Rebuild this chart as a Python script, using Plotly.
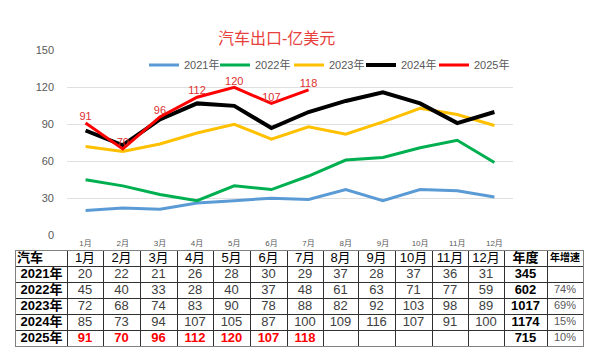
import plotly.graph_objects as go

months = ["1月", "2月", "3月", "4月", "5月", "6月", "7月", "8月", "9月", "10月", "11月", "12月"]
years = ["2021年", "2022年", "2023年", "2024年", "2025年"]
v2021 = [20, 22, 21, 26, 28, 30, 29, 37, 28, 37, 36, 31]
v2022 = [45, 40, 33, 28, 40, 37, 48, 61, 63, 71, 77, 59]
v2023 = [72, 68, 74, 83, 90, 78, 88, 82, 92, 103, 98, 89]
v2024 = [85, 73, 94, 107, 105, 87, 100, 109, 116, 107, 91, 100]
v2025 = [91, 70, 96, 112, 120, 107, 118]
annual = [345, 602, 1017, 1174, 715]
growth = ["", "74%", "69%", "15%", "10%"]
y_ticks = [0, 30, 60, 90, 120, 150]

W, H = 599, 361
FONT = "Liberation Sans, Arial, Noto Sans CJK SC, sans-serif"

series = [v2021, v2022, v2023, v2024, v2025]
colors = ["#5B9BD5", "#00B050", "#FFC000", "#000000", "#FF0000"]
widths = [3, 3, 3, 4, 3]
legend_px = [152, 223, 297, 369, 442]   # left edge of each legend entry (pixels)
legend_names = ["legend", "legend2", "legend3", "legend4", "legend5"]

def px_x(p):
    return p / W

def px_y(p):
    return 1 - p / H

fig = go.Figure()
for name, vals, c, w, lg in zip(years, series, colors, widths, legend_names):
    is25 = name == "2025年"
    fig.add_trace(go.Scatter(
        x=months[:len(vals)], y=vals, name=name,
        mode="lines+text" if is25 else "lines",
        line=dict(color=c, width=w),
        text=[str(v) for v in vals] if is25 else None,
        textposition="top center",
        textfont=dict(color="#E03030", size=11, family=FONT),
        cliponaxis=False, hoverinfo="skip", legend=lg,
        xaxis="x", yaxis="y",
    ))

# ---- table drawn on its own axes ----
col_w = [51, 36, 37, 37, 36, 37, 37, 36, 35, 37, 37, 36, 36, 43, 36]
bounds = [0]
for cw in col_w:
    bounds.append(bounds[-1] + cw)
centers = [(bounds[i] + bounds[i + 1]) / 2 for i in range(len(col_w))]

header = ["<b>汽车</b>"] + months + ["<b>年度</b>", "<b>年增速</b>"]
hdr_sizes = [13] * 14 + [10]
fig.add_trace(go.Scatter(
    x=[bounds[0] + 1], y=[0.5], text=[header[0]], mode="text",
    textposition="middle right", textfont=dict(size=13, color="#000000", family=FONT),
    showlegend=False, hoverinfo="skip", xaxis="x2", yaxis="y2", cliponaxis=False))
fig.add_trace(go.Scatter(
    x=centers[1:], y=[0.5] * (len(header) - 1), text=header[1:], mode="text",
    textposition="middle center",
    textfont=dict(size=hdr_sizes[1:], color="#000000", family=FONT),
    showlegend=False, hoverinfo="skip", xaxis="x2", yaxis="y2", cliponaxis=False))

for i, (y, vals) in enumerate(zip(years, series)):
    texts = ["<b>%s</b>" % y]
    cols_c = ["#000000"]
    sizes = [13]
    for j in range(12):
        if j < len(vals):
            texts.append("<b>%d</b>" % vals[j] if i == 4 else str(vals[j]))
        else:
            texts.append("")
        cols_c.append("#FF0000" if i == 4 else "#404040")
        sizes.append(13)
    texts.append("<b>%d</b>" % annual[i])
    cols_c.append("#000000")
    sizes.append(13)
    texts.append(growth[i])
    cols_c.append("#595959")
    sizes.append(11)
    fig.add_trace(go.Scatter(
        x=centers, y=[i + 1.5] * len(centers), text=texts, mode="text",
        textposition="middle center",
        textfont=dict(size=sizes, color=cols_c, family=FONT),
        showlegend=False, hoverinfo="skip", xaxis="x2", yaxis="y2", cliponaxis=False))

legend_cfg = {}
for lg, lx in zip(legend_names, legend_px):
    legend_cfg[lg] = dict(orientation="h", x=px_x(lx - 8), y=px_y(61), xanchor="left",
                          yanchor="middle", font=dict(size=11, color="#595959"),
                          bgcolor="rgba(0,0,0,0)", borderwidth=0)

fig.update_layout(
    width=W, height=H,
    margin=dict(l=0, r=0, t=0, b=0),
    paper_bgcolor="white", plot_bgcolor="white",
    font=dict(family=FONT),
    showlegend=True,
    **legend_cfg,
    xaxis=dict(domain=[px_x(67), px_x(513)], range=[-0.5, 11.5], type="category",
               categoryorder="array", categoryarray=months,
               showgrid=False, zeroline=False, showline=False,
               tickfont=dict(size=8, color="#595959"), ticks="", ticklabelstandoff=2),
    yaxis=dict(domain=[px_y(237), px_y(46)], range=[0, 150], tickvals=y_ticks,
               showgrid=True, gridcolor="#E0E0E0", gridwidth=1, zeroline=False,
               showline=False, ticks="", tickfont=dict(size=11, color="#595959"),
               ticklabelstandoff=12),
    xaxis2=dict(domain=[px_x(16), px_x(583)], range=[bounds[0], bounds[-1]],
                tickvals=bounds, showticklabels=False, showgrid=True, gridcolor="#303030",
                gridwidth=1, zeroline=False, showline=True, mirror=True, linecolor="#808080",
                linewidth=1, ticks="", anchor="y2", fixedrange=True),
    yaxis2=dict(domain=[px_y(352), px_y(253)], range=[6, 0],
                tickvals=[0, 1, 2, 3, 4, 5, 6], showticklabels=False, showgrid=True,
                gridcolor="#303030", gridwidth=1, zeroline=False, showline=True, mirror=True,
                linecolor="#808080", linewidth=1, ticks="", anchor="x2", fixedrange=True),
    annotations=[dict(text="汽车出口-亿美元", x=px_x(276), y=px_y(34), xref="paper", yref="paper",
                      xanchor="center", yanchor="middle",
                      showarrow=False, font=dict(size=16, color="#E8403C", family=FONT))],
)

fig.write_html("out.html", config={"displayModeBar": False},
               post_script="document.body.style.margin='0';document.body.style.overflow='hidden';")
